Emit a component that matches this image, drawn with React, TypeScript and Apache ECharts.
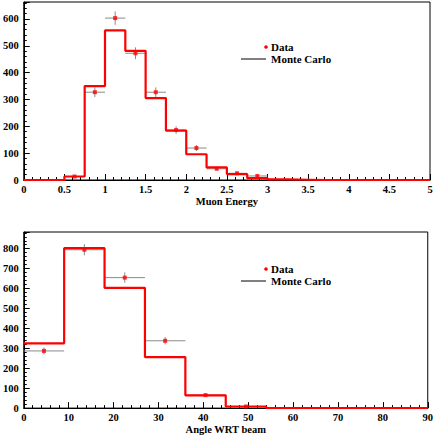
import React, { useEffect, useRef } from "react";
import * as echarts from "echarts";

// ---- Top panel: Muon Energy ----
const energyBinWidth = 0.25;
const energyMC = [0, 0, 13, 350, 557, 481, 305, 184, 96, 47, 22, 7, 2, 1, 0, 0, 0, 0, 0, 0];
const energyDataX = [0.625, 0.875, 1.125, 1.375, 1.625, 1.875, 2.125, 2.375, 2.625, 2.875];
const energyDataY = [13, 327, 603, 472, 327, 186, 119, 42, 25, 15];
const energyDataErr = [3.5, 18, 25, 22, 18, 14, 11, 6.5, 5, 4];
const energyTicks = ["0", "0.5", "1", "1.5", "2", "2.5", "3", "3.5", "4", "4.5", "5"];

// ---- Bottom panel: Angle WRT beam ----
const angleBinWidth = 9;
const angleMC = [325, 803, 604, 256, 64, 8, 0, 0, 0, 0];
const angleDataX = [4.5, 13.5, 22.5, 31.5, 40.5, 49.5];
const angleDataY = [287, 795, 655, 338, 65, 8];
const angleDataErr = [17, 28, 26, 18, 8, 3];

const FONT = "Liberation Serif";

function stepPoints(values: number[], width: number) {
  const pts: number[][] = [];
  values.forEach((v, i) => {
    pts.push([i * width, v]);
    pts.push([(i + 1) * width, v]);
  });
  return pts;
}

function errData(xs: number[], ys: number[], errs: number[], halfW: number) {
  return xs.map((x, i) => [x, ys[i], halfW, errs[i]]);
}

const errRender = (params: any, api: any) => {
  const x = api.value(0);
  const y = api.value(1);
  const hw = api.value(2);
  const ey = api.value(3);
  const l = api.coord([x - hw, y]);
  const r = api.coord([x + hw, y]);
  const t = api.coord([x, y + ey]);
  const b = api.coord([x, y - ey]);
  const style = { stroke: "#8a8a8a", lineWidth: 1 };
  return {
    type: "group",
    children: [
      { type: "line", shape: { x1: l[0], y1: l[1], x2: r[0], y2: r[1] }, style },
      { type: "line", shape: { x1: t[0], y1: t[1], x2: b[0], y2: b[1] }, style },
    ],
  };
};

const labelStyle = {
  fontFamily: FONT,
  fontWeight: "bold",
  fontSize: 10.5,
  color: "#000",
};

function xAxisCfg(gridIndex: number, max: number, interval: number, name: string, formatter?: any) {
  return {
    type: "value",
    gridIndex,
    min: 0,
    max,
    interval,
    name,
    nameLocation: "middle",
    nameGap: 13,
    nameTextStyle: { ...labelStyle },
    axisLine: { show: true, onZero: false, lineStyle: { color: "#000", width: 1 } },
    axisTick: { show: true, inside: true, length: 6, lineStyle: { color: "#000" } },
    minorTick: { show: true, splitNumber: 5, length: 3, lineStyle: { color: "#000" } },
    splitLine: { show: false },
    axisLabel: { ...labelStyle, margin: 4, ...(formatter ? { formatter } : {}) },
  };
}

function yAxisCfg(gridIndex: number, max: number) {
  return {
    type: "value",
    gridIndex,
    min: 0,
    max,
    interval: 100,
    axisLine: { show: true, lineStyle: { color: "#000", width: 1 } },
    axisTick: { show: true, inside: true, length: 6, lineStyle: { color: "#000" } },
    minorTick: { show: true, splitNumber: 5, length: 3, lineStyle: { color: "#000" } },
    splitLine: { show: false },
    axisLabel: { ...labelStyle, margin: 5, showMaxLabel: false },
  };
}

function legendGraphics(dotY: number, lineY: number) {
  const textStyle = { fontFamily: FONT, fontWeight: "bold", fontSize: 11, fill: "#000" };
  return [
    { type: "circle", shape: { cx: 266, cy: dotY, r: 1.8 }, style: { fill: "#ff0000" } },
    { type: "text", x: 271, y: dotY, style: { ...textStyle, text: "Data", verticalAlign: "middle" } },
    { type: "line", shape: { x1: 241, y1: lineY, x2: 266, y2: lineY }, style: { stroke: "#000", lineWidth: 1 } },
    { type: "text", x: 271, y: lineY, style: { ...textStyle, text: "Monte Carlo", verticalAlign: "middle" } },
  ];
}

export default function App() {
  const ref = useRef<HTMLDivElement>(null);
  useEffect(() => {
    if (!ref.current) return;
    const chart = echarts.init(ref.current, null, { renderer: "svg" });
    const option: any = {
      animation: false,
      backgroundColor: "#fff",
      textStyle: { fontFamily: FONT },
      grid: [
        { left: 21, top: 2, width: 409, height: 178, show: true, borderColor: "#000", borderWidth: 1, backgroundColor: "transparent" },
        { left: 21, top: 232, width: 409, height: 178, show: true, borderColor: "#000", borderWidth: 1, backgroundColor: "transparent" },
      ],
      xAxis: [
        xAxisCfg(0, 5, 0.5, "Muon Energy", (v: number) => energyTicks[Math.round(v / 0.5)] ?? ""),
        xAxisCfg(1, 90, 10, "Angle WRT beam"),
      ],
      yAxis: [yAxisCfg(0, 663), yAxisCfg(1, 884)],
      series: [
        {
          type: "custom",
          xAxisIndex: 0,
          yAxisIndex: 0,
          renderItem: errRender,
          data: errData(energyDataX, energyDataY, energyDataErr, energyBinWidth / 2),
          encode: { x: 0, y: 1 },
          z: 1,
        },
        {
          type: "line",
          xAxisIndex: 0,
          yAxisIndex: 0,
          data: stepPoints(energyMC, energyBinWidth),
          symbol: "none",
          lineStyle: { color: "#ff0000", width: 2.2 },
          z: 2,
        },
        {
          type: "scatter",
          xAxisIndex: 0,
          yAxisIndex: 0,
          data: energyDataX.map((x, i) => [x, energyDataY[i]]),
          symbol: "rect",
          symbolSize: 4,
          itemStyle: { color: "#ff0000" },
          z: 3,
        },
        {
          type: "custom",
          xAxisIndex: 1,
          yAxisIndex: 1,
          renderItem: errRender,
          data: errData(angleDataX, angleDataY, angleDataErr, angleBinWidth / 2),
          encode: { x: 0, y: 1 },
          z: 1,
        },
        {
          type: "line",
          xAxisIndex: 1,
          yAxisIndex: 1,
          data: stepPoints(angleMC, angleBinWidth),
          symbol: "none",
          lineStyle: { color: "#ff0000", width: 2.2 },
          z: 2,
        },
        {
          type: "scatter",
          xAxisIndex: 1,
          yAxisIndex: 1,
          data: angleDataX.map((x, i) => [x, angleDataY[i]]),
          symbol: "rect",
          symbolSize: 4,
          itemStyle: { color: "#ff0000" },
          z: 3,
        },
      ],
      graphic: [...legendGraphics(47, 59), ...legendGraphics(269, 281)],
    };
    chart.setOption(option);
    return () => chart.dispose();
  }, []);
  return (
    <div
      ref={ref}
      style={{ position: "fixed", left: 0, top: 0, width: 436, height: 436 }}
    />
  );
}
